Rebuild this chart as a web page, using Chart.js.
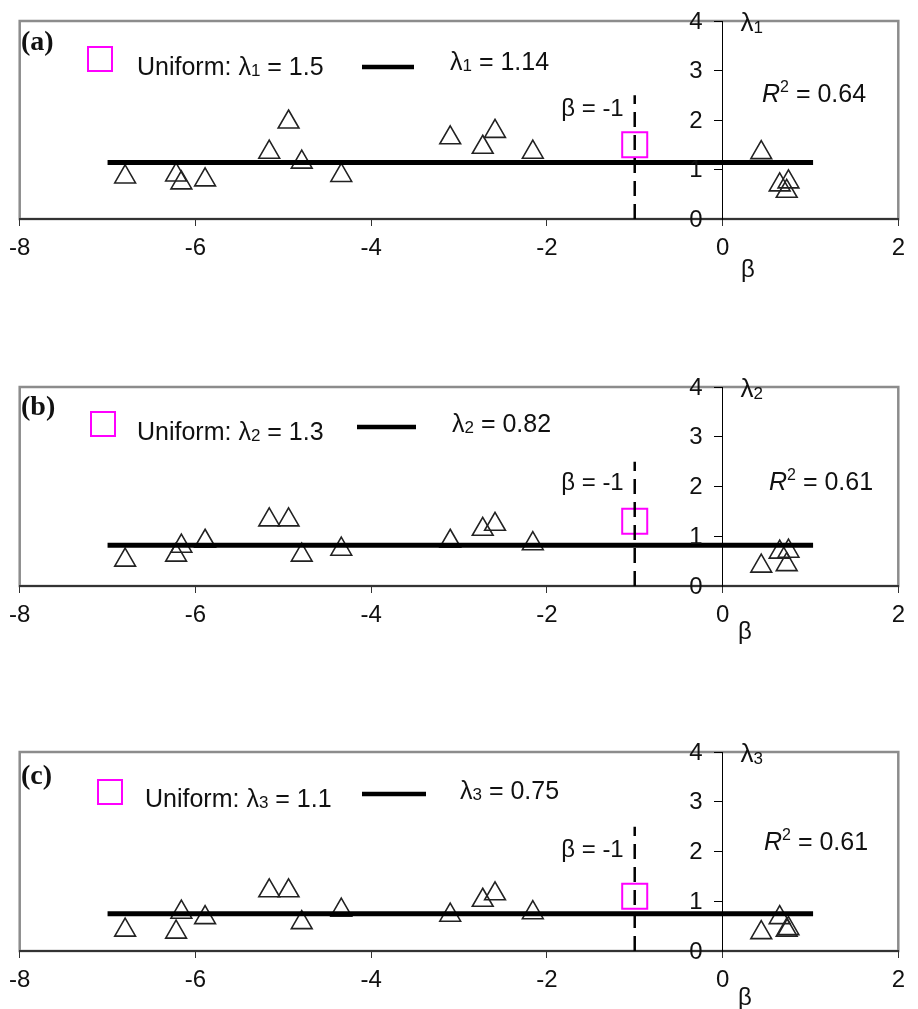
<!DOCTYPE html>
<html>
<head>
<meta charset="utf-8">
<script src="https://cdn.jsdelivr.net/npm/chart.js@4.4.1/dist/chart.umd.min.js"></script>
<style>
body{margin:0;background:#fff;width:918px;height:1009px;position:relative;overflow:hidden}
.panel{position:absolute;left:0;width:918px}
</style>
</head>
<body>
<div class="panel" style="top:0;height:290px"><canvas id="chart0"></canvas></div>
<div class="panel" style="top:366px;height:290px"><canvas id="chart1"></canvas></div>
<div class="panel" style="top:731px;height:278px"><canvas id="chart2"></canvas></div>
<script>
// beta of each case (same in all three panels)
const betaValues = [-6.80,-6.22,-6.16,-5.89,-5.16,-4.94,-4.79,-4.34,-3.10,-2.73,-2.59,-2.16,0.44,0.65,0.75,0.73];
const lambda1Values = [0.85,0.89,0.73,0.79,1.35,1.96,1.15,0.88,1.64,1.45,1.77,1.35,1.34,0.69,0.75,0.56];
const lambda2Values = [0.52,0.62,0.80,0.90,1.33,1.33,0.62,0.74,0.90,1.14,1.24,0.85,0.40,0.68,0.70,0.43];
const lambda3Values = [0.42,0.38,0.78,0.67,1.21,1.21,0.57,0.82,0.72,1.02,1.15,0.77,0.37,0.67,0.45,0.42];
const fitValues = [1.14, 0.82, 0.75];
const fitRange = [-7, 1.03];
const uniformValues = [1.5, 1.3, 1.1];
const r2Values = ["0.64", "0.61", "0.61"];
const panelTags = ["(a)", "(b)", "(c)"];
const betaRef = -1;
const betaRefTop = 2.5;
const xTickRange = [-8, 2, 2];   // min, max, step
const yTickRange = [0, 4, 1];

const lambdaSeries = [lambda1Values, lambda2Values, lambda3Values];
const SANS = "'Liberation Sans', Arial, sans-serif";
const SERIF = "'Liberation Serif', 'Times New Roman', serif";
const axisHeights = [71, 70, 58];

// where the annotation texts sit, offsets from chart area top / bottom
const textPos = [
  {tag:22, box:[100,38], uni:[137,47], line:[362,414,46], fit:[450,42], beta:88, r2:[762,74], bx:[748,51]},
  {tag:21, box:[103,37], uni:[137,46], line:[357,416,40], fit:[452,38], beta:96, r2:[769,96], bx:[745,46]},
  {tag:25, box:[110,40], uni:[145,48], line:[362,426,42], fit:[460,40], beta:98, r2:[764,91], bx:[745,47]}
];

function drawParts(ctx, x, y, parts){
  ctx.textBaseline = "middle";
  ctx.textAlign = "left";
  parts.forEach(p => {
    ctx.font = p.f;
    ctx.fillText(p.t, x, y + (p.dy || 0));
    x += ctx.measureText(p.t).width;
  });
}

const framePlugin = {
  id: "frame",
  beforeDraw(chart){
    const {ctx, chartArea: ca} = chart;
    ctx.save();
    ctx.strokeStyle = "#8c8c8c";
    ctx.lineWidth = 2.5;
    ctx.strokeRect(ca.left, ca.top, ca.width, ca.height);
    ctx.restore();
  }
};

function textPlugin(k){
  return {
    id: "texts" + k,
    afterDraw(chart){
      const {ctx, chartArea: ca} = chart;
      const p = textPos[k];
      const F = "25px " + SANS;
      const SUB = "17px " + SANS;
      const n = String(k + 1);
      const x0 = chart.scales.x.getPixelForValue(0);
      ctx.save();
      ctx.fillStyle = "#111";

      // y tick labels, left of the axis that crosses at beta = 0
      const ys = chart.scales.y;
      ctx.font = "24px " + SANS;
      ctx.textAlign = "right";
      ctx.textBaseline = "middle";
      ys.ticks.forEach(t => ctx.fillText(String(t.value), x0 - 20, ys.getPixelForValue(t.value) + 1));

      ctx.font = "bold 28px " + SERIF;
      ctx.textAlign = "left";
      ctx.fillText(panelTags[k], 21, ca.top + p.tag);

      // legend symbols
      ctx.strokeStyle = "#ff00ff";
      ctx.lineWidth = 2;
      ctx.strokeRect(p.box[0] - 12, ca.top + p.box[1] - 12, 24, 24);
      ctx.strokeStyle = "#000";
      ctx.lineWidth = 4.5;
      ctx.beginPath();
      ctx.moveTo(p.line[0], ca.top + p.line[2]);
      ctx.lineTo(p.line[1], ca.top + p.line[2]);
      ctx.stroke();

      drawParts(ctx, p.uni[0], ca.top + p.uni[1], [
        {t:"Uniform: λ", f:F}, {t:n, f:SUB, dy:3}, {t:" = " + uniformValues[k], f:F}
      ]);
      drawParts(ctx, p.fit[0], ca.top + p.fit[1], [
        {t:"λ", f:F}, {t:n, f:SUB, dy:3}, {t:" = " + fitValues[k], f:F}
      ]);

      ctx.font = "24px " + SANS;
      ctx.textAlign = "right";
      ctx.fillText("β = -1", chart.scales.x.getPixelForValue(betaRef) - 11, ca.top + p.beta);

      drawParts(ctx, p.r2[0], ca.top + p.r2[1], [
        {t:"R", f:"italic 25px " + SANS}, {t:"2", f:"16px " + SANS, dy:-7}, {t:" = " + r2Values[k], f:F}
      ]);

      // axis titles
      drawParts(ctx, x0 + 18, ca.top + 3, [
        {t:"λ", f:"26px " + SANS}, {t:n, f:SUB, dy:4}
      ]);
      ctx.font = "24px " + SANS;
      ctx.textAlign = "center";
      ctx.fillText("β", p.bx[0], ca.bottom + p.bx[1]);
      ctx.restore();
    }
  };
}

function makePanel(k){
  const vals = lambdaSeries[k];
  new Chart(document.getElementById("chart" + k), {
    type: "scatter",
    data: {
      datasets: [
        {
          type: "line",
          data: [{x: fitRange[0], y: fitValues[k]}, {x: fitRange[1], y: fitValues[k]}],
          borderColor: "#000", borderWidth: 5, pointRadius: 0
        },
        {
          type: "line",
          data: [{x: betaRef, y: 0}, {x: betaRef, y: betaRefTop}],
          borderColor: "#000", borderWidth: 2.5, borderDash: [15, 8], pointRadius: 0
        },
        {
          data: betaValues.map((b, j) => ({x: b, y: vals[j]})),
          pointStyle: "triangle", pointRadius: 12,
          borderColor: "#222", borderWidth: 1.6, backgroundColor: "rgba(0,0,0,0)"
        },
        {
          data: [{x: betaRef, y: uniformValues[k]}],
          pointStyle: "rect", pointRadius: 17.7,
          borderColor: "#ff00ff", borderWidth: 2, backgroundColor: "rgba(0,0,0,0)"
        }
      ]
    },
    options: {
      responsive: true,
      maintainAspectRatio: false,
      animation: false,
      events: [],
      layout: {padding: {top: 21, left: 19, right: 13, bottom: 0}},
      plugins: {legend: {display: false}, tooltip: {enabled: false}},
      scales: {
        x: {
          type: "linear", min: xTickRange[0], max: xTickRange[1],
          ticks: {stepSize: xTickRange[2], color: "#111", padding: 8, maxRotation: 0,
                  font: {family: SANS, size: 24}},
          grid: {drawOnChartArea: false, tickLength: 7, color: "#333"},
          border: {display: true, color: "#333", width: 2},
          afterFit: s => { s.height = axisHeights[k]; }
        },
        y: {
          type: "linear", position: {x: 0}, min: yTickRange[0], max: yTickRange[1],
          ticks: {stepSize: yTickRange[2], display: false},
          grid: {drawOnChartArea: false, tickLength: 8, color: "#000"},
          border: {display: true, color: "#000", width: 1}
        }
      }
    },
    plugins: [framePlugin, textPlugin(k)]
  });
}

[0, 1, 2].forEach(makePanel);
</script>
</body>
</html>
